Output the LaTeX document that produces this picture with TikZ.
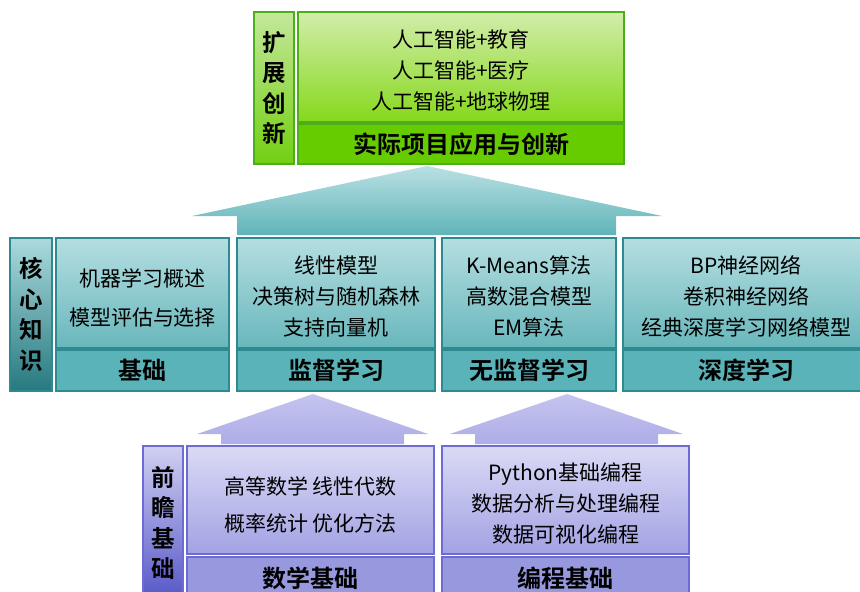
\documentclass[tikz,border=0pt]{standalone}
\usepackage{fontspec}
\setmainfont{Noto Sans CJK SC}[BoldFont={Noto Sans CJK SC Bold}]
\definecolor{gBorder}{HTML}{4CAF1A}
\definecolor{gTop}{HTML}{D2EDAA}
\definecolor{gBot}{HTML}{86D81C}
\definecolor{gBar}{HTML}{66CC00}
\definecolor{gLTop}{HTML}{C4E89A}
\definecolor{gLBot}{HTML}{72CF12}
\definecolor{tBorder}{HTML}{2C8A90}
\definecolor{tTop}{HTML}{B5DEE1}
\definecolor{tBot}{HTML}{68B7BC}
\definecolor{tBar}{HTML}{5AB3B8}
\definecolor{tLTop}{HTML}{ABDADD}
\definecolor{tLBot}{HTML}{26797F}
\definecolor{aTTop}{HTML}{B9E0E3}
\definecolor{aTBot}{HTML}{60B4B9}
\definecolor{lBorder}{HTML}{6C6CD4}
\definecolor{lTop}{HTML}{DADAF6}
\definecolor{lBot}{HTML}{A2A2E3}
\definecolor{lBar}{HTML}{9898DF}
\definecolor{lLTop}{HTML}{D0D0F2}
\definecolor{lLBot}{HTML}{5656C8}
\definecolor{aLTop}{HTML}{C4C4EF}
\definecolor{aLBot}{HTML}{ADADE8}
\begin{document}
\begin{tikzpicture}[x=1pt,y=-1pt,
  every node/.style={inner sep=0pt,outer sep=0pt,align=center,text=black},
  box/.style={draw,line width=1.6pt},
  txt/.style={font=\fontsize{21}{31}\selectfont},
  barbox/.style={draw,line width=1.6pt,font=\bfseries\fontsize{24}{28}\selectfont},
  lbl/.style={draw,line width=1.6pt,font=\bfseries\fontsize{23.5}{30.5}\selectfont},
  gUp/.style={box,draw=gBorder,top color=gTop,bottom color=gBot},
  gBarS/.style={barbox,draw=gBorder,fill=gBar},
  gLbl/.style={lbl,draw=gBorder,top color=gLTop,bottom color=gLBot},
  tUp/.style={box,draw=tBorder,top color=tTop,bottom color=tBot},
  tBarS/.style={barbox,draw=tBorder,fill=tBar},
  tLbl/.style={lbl,draw=tBorder,top color=tLTop,bottom color=tLBot},
  lUp/.style={box,draw=lBorder,top color=lTop,bottom color=lBot},
  lBarS/.style={barbox,draw=lBorder,fill=lBar},
  lLbl/.style={lbl,draw=lBorder,top color=lLTop,bottom color=lLBot},
  tArrow/.style={top color=aTTop,bottom color=aTBot,draw=none},
  lArrow/.style={top color=aLTop,bottom color=aLBot,draw=none}
]
\useasboundingbox (0,0) rectangle (860,592);
\clip (0,0) rectangle (860,592);
\fill[white] (0,0) rectangle (860,592);

% top section
\node[gLbl,minimum width=40,minimum height=152] (lblT) at (274,88) {扩\\展\\创\\新};
\node[gUp,minimum width=326,minimum height=110] (topU) at (461,67) {};
\node[txt,yshift=-3pt] (topT) at (topU.center) {人工智能+教育\\人工智能+医疗\\人工智能+地球物理};
\node[gBarS,minimum width=326,minimum height=40] (topB) at (461,144) {实际项目应用与创新};

% teal arrow
\shade[tArrow] (192,216) -- (427,166) -- (662,216) -- (616,216) -- (616,235) -- (237,235) -- (237,216) -- cycle;

% middle section
\node[tLbl,minimum width=42,minimum height=153] (lblM) at (31,314.5) {核\\心\\知\\识};
\node[tUp,minimum width=173,minimum height=110] (m1U) at (142.5,293) {};
\node[txt,font=\fontsize{21}{39}\selectfont,yshift=-5pt] (m1T) at (m1U.center) {机器学习概述\\模型评估与选择};
\node[tBarS,minimum width=173,minimum height=41] (m1B) at (142.5,370.5) {基础};
\node[tUp,minimum width=198,minimum height=110] (m2U) at (336,293) {};
\node[txt,yshift=-3pt] (m2T) at (m2U.center) {线性模型\\决策树与随机森林\\支持向量机};
\node[tBarS,minimum width=198,minimum height=41] (m2B) at (336,370.5) {监督学习};
\node[tUp,minimum width=174,minimum height=110] (m3U) at (529,293) {};
\node[txt,yshift=-3pt] (m3T) at (m3U.center) {K-Means算法\\高数混合模型\\EM算法};
\node[tBarS,minimum width=174,minimum height=41] (m3B) at (529,370.5) {无监督学习};
\node[tUp,minimum width=246,minimum height=110] (m4U) at (746,293) {};
\node[txt,yshift=-3pt] (m4T) at (m4U.center) {BP神经网络\\卷积神经网络\\经典深度学习网络模型};
\node[tBarS,minimum width=246,minimum height=41] (m4B) at (746,370.5) {深度学习};

% lavender arrows
\shade[lArrow] (197,434) -- (313,394) -- (428,434) -- (404,434) -- (404,444) -- (221,444) -- (221,434) -- cycle;
\shade[lArrow] (450,434) -- (567,394) -- (683,434) -- (658,434) -- (658,444) -- (475,444) -- (475,434) -- cycle;

% bottom section
\node[lLbl,minimum width=40,minimum height=154] (lblB) at (163,523) {前\\瞻\\基\\础};
\node[lUp,minimum width=247,minimum height=108] (b1U) at (310.5,500) {};
\node[txt,font=\fontsize{21}{37}\selectfont,yshift=-5pt] (b1T) at (b1U.center) {高等数学 线性代数\\概率统计 优化方法};
\node[lBarS,minimum width=247,minimum height=42] (b1B) at (310.5,578) {数学基础};
\node[lUp,minimum width=247,minimum height=108] (b2U) at (565.5,500) {};
\node[txt,yshift=-3pt] (b2T) at (b2U.center) {Python基础编程\\数据分析与处理编程\\数据可视化编程};
\node[lBarS,minimum width=247,minimum height=42] (b2B) at (565.5,578) {编程基础};
\end{tikzpicture}
\end{document}
